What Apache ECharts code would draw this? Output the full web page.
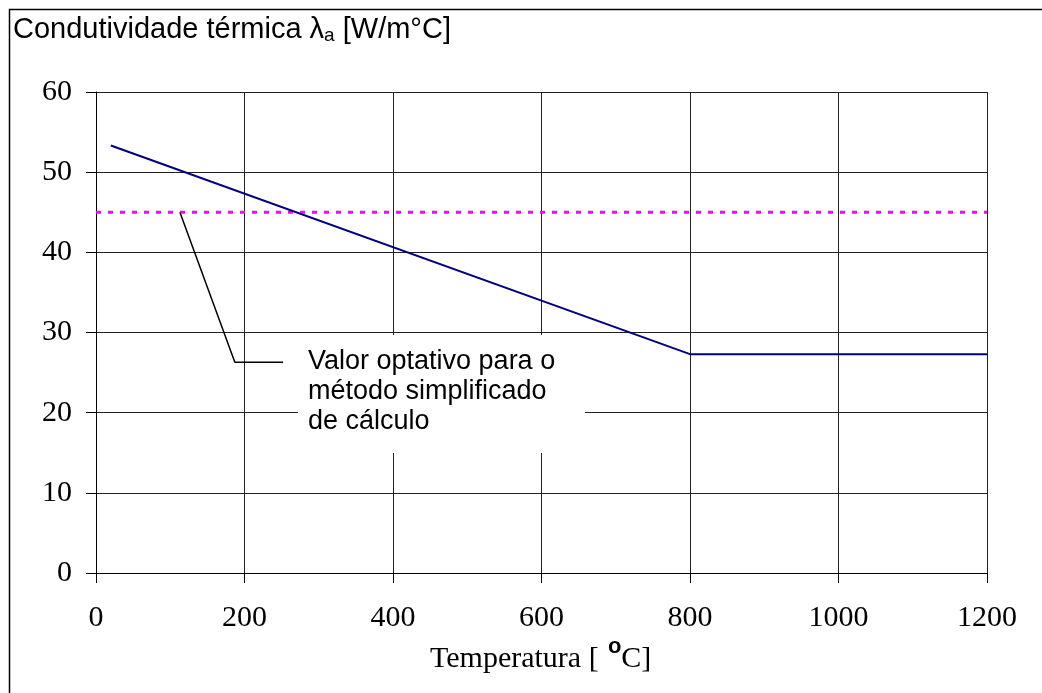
<!DOCTYPE html>
<html>
<head>
<meta charset="utf-8">
<script src="https://cdn.jsdelivr.net/npm/echarts@6/dist/echarts.min.js"></script>
<style>
html, body { margin: 0; padding: 0; background: #fff; }
#chart { width: 1042px; height: 693px; }
</style>
</head>
<body>
<div id="chart"></div>
<script>
var xTicks = [0, 200, 400, 600, 800, 1000, 1200];
var yTicks = [0, 10, 20, 30, 40, 50, 60];
// condutividade do aco (temperatura, lambda)
var lambdaData = [[20, 53.33], [800, 27.3], [1200, 27.3]];
// valor optativo simplificado
var simplData = [[0, 45], [1200, 45]];
// linha de chamada da nota
var leaderData = [[113, 45], [187, 26.3], [252, 26.3]];

var serif = '"Liberation Serif", "Times New Roman", serif';
var sans = '"Liberation Sans", Arial, sans-serif';

var chart = echarts.init(document.getElementById('chart'));

var option = {
	backgroundColor : '#fff',
	animation : false,
	grid : {
		left : 96,
		right : 55,
		top : 92,
		bottom : 120
	},
	xAxis : {
		type : 'value',
		min : xTicks[0],
		max : xTicks[xTicks.length - 1],
		interval : 200,
		axisLine : { show : true, onZero : false, lineStyle : { color : '#000', width : 1 } },
		axisTick : { show : true, length : 10, lineStyle : { color : '#000' } },
		axisLabel : {
			fontFamily : serif, fontSize : 30, color : '#000', margin : 30,
			formatter : function (v) { return String(v); }
		},
		splitLine : { show : true, lineStyle : { color : '#222', width : 1 } }
	},
	yAxis : {
		type : 'value',
		min : yTicks[0],
		max : yTicks[yTicks.length - 1],
		interval : 10,
		axisLine : { show : true, onZero : false, lineStyle : { color : '#000', width : 1 } },
		axisTick : { show : true, length : 10, lineStyle : { color : '#000' } },
		axisLabel : { fontFamily : serif, fontSize : 30, color : '#000', margin : 24 },
		splitLine : { show : true, lineStyle : { color : '#222', width : 1 } }
	},
	series : [ {
		type : 'line',
		data : simplData,
		symbol : 'none',
		z : 3,
		lineStyle : { color : '#ff00ff', width : 3, type : [5, 7] }
	}, {
		type : 'line',
		data : lambdaData,
		symbol : 'none',
		z : 4,
		lineStyle : { color : '#000080', width : 2 }
	}, {
		type : 'line',
		data : leaderData,
		symbol : 'none',
		z : 4,
		lineStyle : { color : '#000', width : 1.5 }
	} ],
	graphic : [ {
		type : 'rect',
		left : 7,
		top : 7,
		z : 0,
		silent : true,
		shape : { width : 1100, height : 800 },
		style : { fill : 'none', stroke : '#000', lineWidth : 1.5 }
	}, {
		type : 'text',
		left : 13,
		top : 15,
		z : 100,
		style : {
			text : 'Condutividade térmica λ{sub|a} [W/m°C]',
			font : '29px ' + sans,
			fill : '#000',
			rich : {
				sub : { fontSize : 19, fontFamily : sans, padding : [13, 0, 0, 0] }
			}
		}
	}, {
		type : 'rect',
		left : 298,
		top : 335,
		z : 100,
		silent : true,
		shape : { width : 287, height : 118 },
		style : { fill : '#fff' }
	}, {
		type : 'text',
		left : 308,
		top : 347,
		z : 101,
		style : {
			text : 'Valor optativo para o\nmétodo simplificado\nde cálculo',
			font : '27px ' + sans,
			lineHeight : 30,
			fill : '#000'
		}
	}, {
		type : 'text',
		left : 430,
		top : 644,
		z : 100,
		style : {
			text : 'Temperatura [   C]',
			font : '30px ' + serif,
			fill : '#000'
		}
	}, {
		type : 'text',
		left : 608,
		top : 636,
		z : 100,
		style : {
			text : 'o',
			font : 'bold 22px ' + sans,
			fill : '#000'
		}
	} ]
};

chart.setOption(option);
</script>
</body>
</html>
